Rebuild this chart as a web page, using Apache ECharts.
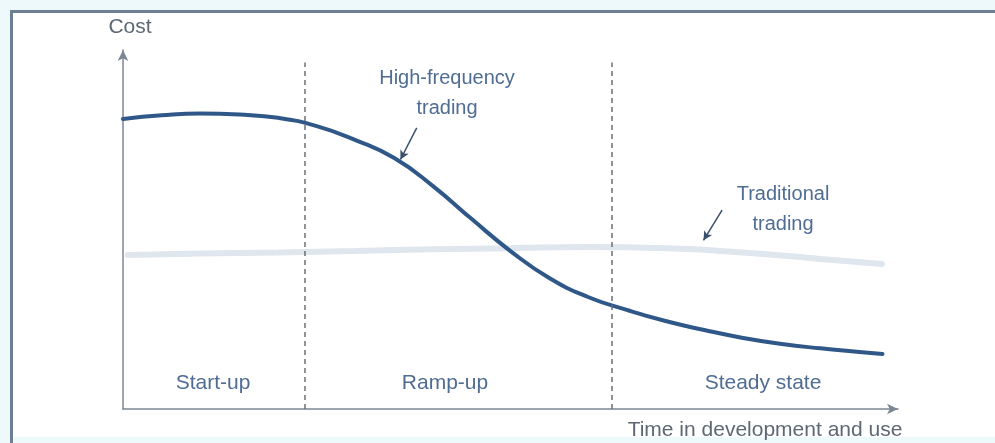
<!DOCTYPE html>
<html>
<head>
<meta charset="utf-8">
<script src="https://cdn.jsdelivr.net/npm/echarts@6/dist/echarts.min.js"></script>
<style>
html,body{margin:0;padding:0;background:#eef9fc;}
#c{width:995px;height:443px;}
</style>
</head>
<body>
<div id="c"></div>
<script>
// Time (x, 0..100) and cost (y, 0..100)
var hftX = [0, 5, 10, 15, 20, 25, 30, 35, 40, 45, 50, 55, 60, 65, 70, 75, 80, 85, 90, 95, 98];
var hftY = [80.8, 81.8, 82.3, 82.0, 81.1, 78.8, 74.9, 69.9, 62.1, 52.9, 44.0, 36.5, 31.2, 27.6, 24.5, 22.0, 19.8, 18.1, 16.9, 15.9, 15.3];
var tradX = [0.6, 10, 20, 30, 40, 50, 60, 70, 80, 90, 97.9];
var tradY = [42.9, 43.3, 43.6, 44.0, 44.5, 44.8, 45.1, 44.8, 43.6, 41.8, 40.4];
var phaseBounds = [23.4, 63.1];
var phaseNames = ['Start-up', 'Ramp-up', 'Steady state'];
var seriesNames = ['High-frequency\ntrading', 'Traditional\ntrading'];
var axisNames = ['Cost', 'Time in development and use'];

function pairs(xs, ys){ return xs.map(function(x,i){ return [x, ys[i]]; }); }

var chart = echarts.init(document.getElementById('c'), null, {renderer:'canvas'});
var font = '"Liberation Sans", Arial, sans-serif';
var labelBlue = '#4f6c93';
var greyText = '#5d6874';

var option = {
  animation: false,
  backgroundColor: '#eef9fc',
  grid: {left: 123, right: 97, top: 50, bottom: 34},
  xAxis: {
    type: 'value', min: 0, max: 100,
    axisLine: {show: true, symbol: ['none','arrow'], symbolSize: [8, 11], lineStyle: {color: '#7c8794', width: 1.5}},
    axisTick: {show: false}, axisLabel: {show: false}, splitLine: {show: false}
  },
  yAxis: {
    type: 'value', min: 0, max: 100,
    axisLine: {show: true, symbol: ['none','arrow'], symbolSize: [8, 11], lineStyle: {color: '#7c8794', width: 1.5}},
    axisTick: {show: false}, axisLabel: {show: false}, splitLine: {show: false}
  },
  graphic: [
    {type: 'rect', z: -10, shape: {x: 11.5, y: 11.5, width: 1100, height: 1000}, style: {fill: '#ffffff', stroke: '#6d7f92', lineWidth: 3}},
    {type: 'rect', z: -9, shape: {x: 13, y: 437, width: 1000, height: 20}, style: {fill: '#eef9fc'}},
    {type: 'text', style: {text: axisNames[0], x: 130, y: 27, textAlign: 'center', textVerticalAlign: 'middle', font: '21px ' + font, fill: greyText}},
    {type: 'text', style: {text: axisNames[1], x: 765, y: 430, textAlign: 'center', textVerticalAlign: 'middle', font: '21px ' + font, fill: greyText}},
    {type: 'text', style: {text: seriesNames[0], x: 447, y: 93, textAlign: 'center', textVerticalAlign: 'middle', font: '20px ' + font, fill: labelBlue, lineHeight: 30}},
    {type: 'text', style: {text: seriesNames[1], x: 783, y: 209, textAlign: 'center', textVerticalAlign: 'middle', font: '20px ' + font, fill: labelBlue, lineHeight: 30}},
    {type: 'text', style: {text: phaseNames[0], x: 213, y: 383, textAlign: 'center', textVerticalAlign: 'middle', font: '21px ' + font, fill: labelBlue}},
    {type: 'text', style: {text: phaseNames[1], x: 445, y: 383, textAlign: 'center', textVerticalAlign: 'middle', font: '21px ' + font, fill: labelBlue}},
    {type: 'text', style: {text: phaseNames[2], x: 763, y: 383, textAlign: 'center', textVerticalAlign: 'middle', font: '21px ' + font, fill: labelBlue}}
  ],
  series: [
    {
      name: 'Traditional', type: 'line', smooth: 0.5, showSymbol: false, z: 2,
      data: pairs(tradX, tradY),
      lineStyle: {color: '#dfe6ed', width: 6, cap: 'round'}
    },
    {
      name: 'HFT', type: 'line', smooth: 0.5, showSymbol: false, z: 4,
      data: pairs(hftX, hftY),
      lineStyle: {color: '#2f5888', width: 4, cap: 'round'},
      markLine: {
        silent: true, symbol: ['none','none'], label: {show: false},
        lineStyle: {color: '#6a6f78', type: [5, 4], width: 1.5},
        data: [
          [{coord: [phaseBounds[0], 0]}, {coord: [phaseBounds[0], 96.5]}],
          [{coord: [phaseBounds[1], 0]}, {coord: [phaseBounds[1], 96.5]}]
        ]
      }
    },
    {
      name: 'arrows', type: 'line', data: [], z: 5,
      markLine: {
        silent: true, label: {show: false}, symbol: ['none','arrow'], symbolSize: [7, 9],
        lineStyle: {color: '#3a4f6b', type: 'solid', width: 1.5},
        data: [
          [{coord: [37.9, 78.3]}, {coord: [35.8, 69.5]}],
          [{coord: [77.3, 55.4]}, {coord: [74.9, 47.0]}]
        ]
      }
    }
  ]
};
chart.setOption(option);
</script>
</body>
</html>
